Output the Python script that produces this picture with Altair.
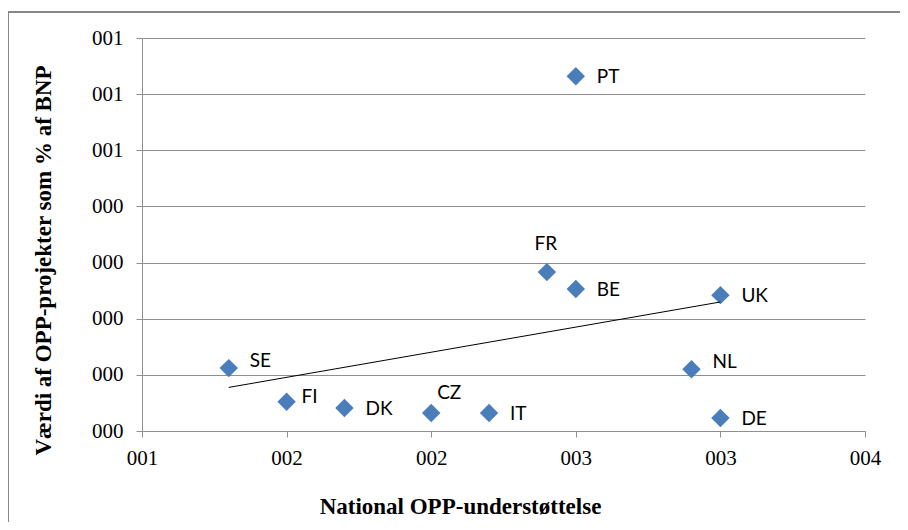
import json
import altair as alt
import pandas as pd

countries = ["PT", "FR", "BE", "UK", "SE", "NL", "FI", "DK", "CZ", "IT", "DE"]
x_vals = [2.5, 2.4, 2.5, 3.0, 1.3, 2.9, 1.5, 1.7, 2.0, 2.2, 3.0]
y_vals = [0.632, 0.283, 0.253, 0.242, 0.112, 0.110, 0.052, 0.041, 0.032, 0.032, 0.023]

x_ticks = [1.0, 1.5, 2.0, 2.5, 3.0, 3.5]
x_tick_labels = ["001", "002", "002", "003", "003", "004"]
y_ticks = [0.0, 0.1, 0.2, 0.3, 0.4, 0.5, 0.6, 0.7]
y_tick_labels = ["000", "000", "000", "000", "000", "001", "001", "001"]

df = pd.DataFrame({"land": countries, "x": x_vals, "y": y_vals})

GRAY = "#8f8f8f"
SERIF = "Liberation Serif"
SANS = "Lato"

x_expr = f"{json.dumps(x_tick_labels)}[indexof({json.dumps(x_ticks)}, datum.value)]"
y_expr = f"{json.dumps(y_tick_labels)}[indexof({json.dumps(y_ticks)}, datum.value)]"

x_enc = alt.X(
    "x:Q",
    scale=alt.Scale(domain=[1.0, 3.5], nice=False, zero=False),
    axis=alt.Axis(
        values=x_ticks, labelExpr=x_expr, grid=False, labelFlush=False, labelOverlap=False,
        domainColor=GRAY, tickColor=GRAY, tickSize=6, labelPadding=10,
        labelFont=SERIF, labelFontSize=21, labelColor="black",
        title="National OPP-understøttelse", titleFont=SERIF, titleFontSize=23,
        titleFontWeight="bold", titleColor="black",
        titleX=318, titleY=75, titleAlign="center", titleBaseline="middle",
    ),
)
y_enc = alt.Y(
    "y:Q",
    scale=alt.Scale(domain=[0.0, 0.7], nice=False),
    axis=alt.Axis(
        values=y_ticks, labelExpr=y_expr, grid=True, gridColor=GRAY,
        labelFlush=False, labelOverlap=False,
        domainColor=GRAY, tickColor=GRAY, tickSize=6, labelPadding=13,
        labelFont=SERIF, labelFontSize=21, labelColor="black",
        title="Værdi af OPP-projekter som % af BNP", titleFont=SERIF, titleFontSize=23,
        titleFontWeight="bold", titleColor="black",
        titleX=-99, titleY=222, titleAlign="center", titleBaseline="middle", titleAngle=270,
    ),
)

base = alt.Chart(df)
frame_data = alt.Data(values=[{}])

border_top = alt.Chart(frame_data).mark_rule(
    stroke="#878787", strokeWidth=2, clip=False
).encode(x=alt.value(-134), x2=alt.value(900), y=alt.value(-26))
border_left = alt.Chart(frame_data).mark_rule(
    stroke="#878787", strokeWidth=2, clip=False
).encode(x=alt.value(-134), y=alt.value(-27), y2=alt.value(700))

points = base.mark_point(
    shape="diamond", filled=True, size=340, color="#4a7ebb", opacity=1
).encode(x=x_enc, y=y_enc)

trend = base.transform_regression("x", "y").mark_line(color="black", strokeWidth=1).encode(
    x="x:Q", y="y:Q"
)

def labels(names, **kw):
    return base.transform_filter(
        alt.FieldOneOfPredicate(field="land", oneOf=names)
    ).mark_text(font=SANS, fontSize=19, color="black", **kw).encode(
        x="x:Q", y="y:Q", text="land:N"
    )

lab_right = labels(["PT", "BE", "UK", "DK", "IT", "DE"], align="left", baseline="middle", dx=21, dy=1)
lab_rightup = labels(["SE", "NL"], align="left", baseline="middle", dx=21, dy=-7)
lab_fi = labels(["FI"], align="left", baseline="middle", dx=15, dy=-5)
lab_fr = labels(["FR"], align="center", baseline="middle", dx=-1, dy=-28)
lab_cz = labels(["CZ"], align="center", baseline="middle", dx=18, dy=-20)

chart = alt.layer(
    border_top, border_left, points, trend, lab_right, lab_rightup, lab_fi, lab_fr, lab_cz
).properties(
    width=723, height=393,
    autosize=alt.AutoSizeParams(type="none"),
    padding={"left": 134, "top": 30, "right": 35, "bottom": 91},
    background="white",
).configure_view(stroke=None)

chart.save("out.html", embed_options={"renderer": "svg", "actions": False})
